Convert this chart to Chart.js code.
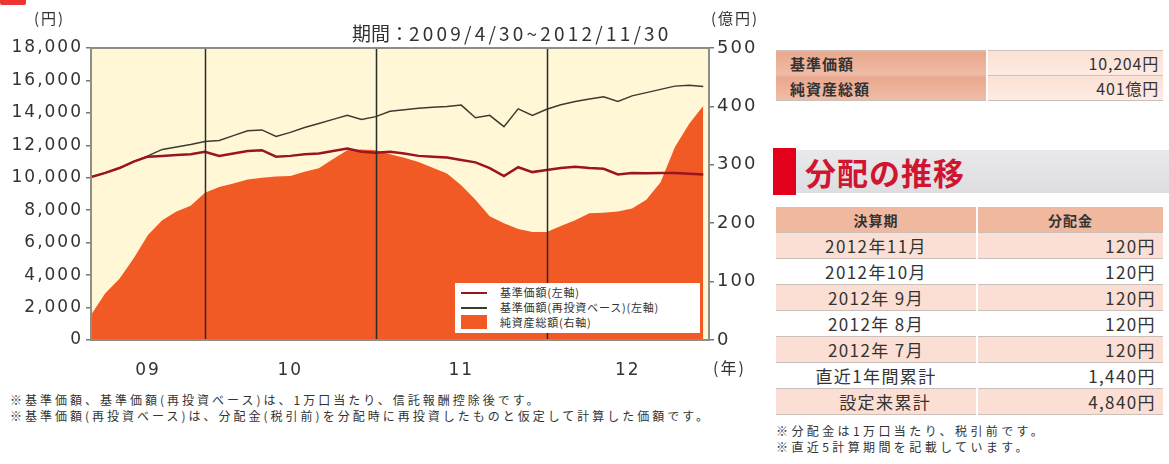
<!DOCTYPE html>
<html lang="ja">
<head>
<meta charset="UTF-8">
<title>基準価額・純資産の推移</title>
<script src="https://cdn.jsdelivr.net/npm/chart.js"></script>
<style>
  body { margin: 0; background: #fff; color: #333; font-family: "Noto Sans CJK JP", sans-serif; }
  #page { position: relative; width: 1169px; height: 464px; overflow: hidden; }
  #chartBox { position: absolute; left: 0; top: 0; width: 770px; height: 390px; }
  .abs { position: absolute; white-space: pre; }
  .unit { font-size: 15px; line-height: 18px; letter-spacing: 2px; }
  .note { font-size: 12px; line-height: 16px; letter-spacing: 3px; }
  #legendBox { position: absolute; left: 455px; top: 283px; width: 245px; height: 50px; background: #fff; }
  #legendBox .row { position: absolute; left: 0; font-size: 11px; line-height: 13px; letter-spacing: 0.8px; }
  #legendBox .sw { position: absolute; left: 6px; width: 26px; }
  #legendBox .tx { position: absolute; left: 45px; top: 0; white-space: pre; }

  table { border-collapse: collapse; position: absolute; left: 776px; width: 387px; }
  td { padding: 0 4px; border-top: 1px solid #c9c0bc; border-bottom: 1px solid #c9c0bc; }
  td + td { border-left: 2px solid #fff; }
  #infoTable { top: 50px; }
  #infoTable td { height: 23px; font-size: 15px; }
  #infoTable td.k { width: 192px; background: linear-gradient(#e9a78d, #f0bca6); font-weight: bold; letter-spacing: 1px; padding-left: 14px; }
  #infoTable td.v { background: linear-gradient(#fbe0d4, #fdebe3); text-align: right; font-size: 16px; letter-spacing: 0.8px; }
  #redBar { position: absolute; left: 773px; top: 148px; width: 23px; height: 47px; background: #e2001a; }
  #band { position: absolute; left: 796px; top: 150px; width: 373px; height: 43px; background: linear-gradient(#e9e9ec, #dedee2); }
  #heading { position: absolute; left: 805px; top: 150px; font-size: 31px; line-height: 43px; font-weight: bold; color: #cf1530; letter-spacing: 1px; }
  #distTable { top: 207px; }
  #distTable th { height: 23px; font-size: 14px; font-weight: bold; background: #f1b8a0; border-bottom: 1px solid #c9c0bc; letter-spacing: 1px; }
  #distTable th + th { border-left: 2px solid #fff; }
  #distTable td { height: 24px; font-size: 17px; letter-spacing: 1.4px; }
  #distTable td.k { width: 192px; text-align: center; }
  #distTable td.v { text-align: right; padding-right: 7px; }
  #distTable tr.pink td { background: #fcdfd4; }
  #distTable tr.white td { background: #fff; }
</style>
</head>
<body>
<div id="page">
  <div class="abs" style="left:0;top:-8px;width:26px;height:13px;background:#e33;border-radius:2px;"></div>
  <div id="chartBox"><canvas id="navChart"></canvas></div>

  <div class="abs unit" style="left:34px;top:9px;">(円)</div>
  <div class="abs unit" style="left:711px;top:9px;">(億円)</div>
  <div class="abs" style="left:352px;top:22px;font-size:19px;line-height:22px;"><span>期間：</span><span style="letter-spacing:3.2px;">2009/4/30~2012/11/30</span></div>
  <div class="abs" style="left:713px;top:357px;font-size:16px;line-height:20px;letter-spacing:2px;">(年)</div>

  <div id="legendBox">
    <div class="row" style="top:3px;width:245px;"><div class="sw" style="top:6px;height:2px;background:#9a1520;"></div><div class="tx">基準価額(左軸)</div></div>
    <div class="row" style="top:18px;width:245px;"><div class="sw" style="top:6px;height:2px;background:#3b3b30;"></div><div class="tx">基準価額(再投資ベース)(左軸)</div></div>
    <div class="row" style="top:33px;width:245px;"><div class="sw" style="top:-1px;height:14px;background:#f15a24;"></div><div class="tx">純資産総額(右軸)</div></div>
  </div>

  <div class="abs note" style="left:10px;top:392px;">※基準価額、基準価額(再投資ベース)は、1万口当たり、信託報酬控除後です。</div>
  <div class="abs note" style="left:10px;top:408px;">※基準価額(再投資ベース)は、分配金(税引前)を分配時に再投資したものと仮定して計算した価額です。</div>

  <table id="infoTable">
    <tr><td class="k">基準価額</td><td class="v">10,204円</td></tr>
    <tr><td class="k">純資産総額</td><td class="v">401億円</td></tr>
  </table>

  <div id="redBar"></div>
  <div id="band"></div>
  <div id="heading">分配の推移</div>

  <table id="distTable">
    <tr><th>決算期</th><th>分配金</th></tr>
    <tr class="pink"><td class="k">2012年11月</td><td class="v">120円</td></tr>
    <tr class="white"><td class="k">2012年10月</td><td class="v">120円</td></tr>
    <tr class="pink"><td class="k">2012年 9月</td><td class="v">120円</td></tr>
    <tr class="white"><td class="k">2012年 8月</td><td class="v">120円</td></tr>
    <tr class="pink"><td class="k">2012年 7月</td><td class="v">120円</td></tr>
    <tr class="white"><td class="k">直近1年間累計</td><td class="v">1,440円</td></tr>
    <tr class="pink"><td class="k">　設定来累計</td><td class="v">4,840円</td></tr>
  </table>

  <div class="abs note" style="left:776px;top:423px;letter-spacing:3.4px;">※分配金は1万口当たり、税引前です。</div>
  <div class="abs note" style="left:776px;top:439px;letter-spacing:3.4px;">※直近5計算期間を記載しています。</div>
</div>

<script>
// 月末データ (2009/4/30 ~ 2012/11/30)
const months = [
  '2009/4', '2009/5', '2009/6', '2009/7', '2009/8', '2009/9', '2009/10', '2009/11', '2009/12',
  '2010/1', '2010/2', '2010/3', '2010/4', '2010/5', '2010/6', '2010/7', '2010/8', '2010/9', '2010/10', '2010/11', '2010/12',
  '2011/1', '2011/2', '2011/3', '2011/4', '2011/5', '2011/6', '2011/7', '2011/8', '2011/9', '2011/10', '2011/11', '2011/12',
  '2012/1', '2012/2', '2012/3', '2012/4', '2012/5', '2012/6', '2012/7', '2012/8', '2012/9', '2012/10', '2012/11'
];
// 基準価額 (円, 左軸)
const navValues = [
  10050, 10300, 10600, 11000, 11300, 11350, 11400, 11450, 11600,
  11350, 11500, 11650, 11700, 11300, 11350, 11450, 11500, 11650, 11800, 11600, 11550,
  11600, 11500, 11350, 11300, 11250, 11100, 10950, 10600, 10100, 10650, 10350, 10480,
  10600, 10680, 10600, 10550, 10200, 10300, 10280, 10300, 10290, 10250, 10204
];
// 基準価額(再投資ベース) (円, 左軸)
const navReinvested = [
  10050, 10300, 10600, 11000, 11350, 11750, 11900, 12050, 12230,
  12300, 12600, 12900, 12950, 12550, 12800, 13100, 13350, 13600, 13850, 13600, 13770,
  14100, 14200, 14280, 14350, 14400, 14480, 13700, 13850, 13150, 14250, 13850, 14220,
  14500, 14700, 14850, 15000, 14700, 15050, 15250, 15450, 15650, 15700, 15620
];
// 純資産総額 (億円, 右軸)
const netAssets = [
  43, 80, 105, 140, 180, 205, 220, 230, 252,
  262, 268, 275, 278, 280, 281, 288, 294, 310, 325, 326, 325,
  318, 312, 305, 295, 285, 265, 240, 212, 200, 190, 185, 185,
  195, 205, 217, 218, 220, 225, 240, 270, 330, 370, 401
];
const yearLabels = ['09', '10', '11', '12'];
const leftTicks = [0, 2000, 4000, 6000, 8000, 10000, 12000, 14000, 16000, 18000];
const rightTicks = [0, 100, 200, 300, 400, 500];

// 年の区切り(12月末)と年ラベルの位置
const xMax = months.length - 1 + 0.4;
const yearEnds = months.map((m, i) => (m.endsWith('/12') ? i : null)).filter(v => v !== null);
const edges = [0, ...yearEnds, xMax];
const yearMid = yearLabels.map((_, i) => (edges[i] + edges[i + 1]) / 2);

const toPoints = arr => arr.map((v, i) => ({ x: i, y: v }));

const tickFont = { family: 'DejaVu Sans', size: 17 };

const plotFrame = {
  id: 'plotFrame',
  beforeDraw(chart) {
    const { ctx, chartArea: a } = chart;
    ctx.letterSpacing = '2px';
    ctx.save();
    ctx.fillStyle = '#fff7d6';
    ctx.fillRect(a.left, a.top, a.width, a.height);
    ctx.restore();
  },
  afterDatasetsDraw(chart) {
    const { ctx, chartArea: a, scales } = chart;
    ctx.save();
    ctx.strokeStyle = '#2b2b2b';
    ctx.lineWidth = 1.5;
    yearEnds.forEach(v => {
      const x = Math.round(scales.x.getPixelForValue(v)) + 0.5;
      ctx.beginPath();
      ctx.moveTo(x, a.top);
      ctx.lineTo(x, a.bottom);
      ctx.stroke();
    });
    ctx.strokeStyle = '#8e8e86';
    ctx.lineWidth = 2;
    ctx.strokeRect(a.left, a.top, a.width, a.height);
    ctx.restore();
  }
};

const ctx = document.getElementById('navChart').getContext('2d');
new Chart(ctx, {
  type: 'line',
  data: {
    datasets: [
      {
        label: '基準価額(左軸)',
        data: toPoints(navValues),
        borderColor: '#9a1520',
        borderWidth: 2.5,
        pointRadius: 0,
        yAxisID: 'y'
      },
      {
        label: '基準価額(再投資ベース)(左軸)',
        data: toPoints(navReinvested),
        borderColor: '#3b3b30',
        borderWidth: 1.5,
        pointRadius: 0,
        yAxisID: 'y'
      },
      {
        label: '純資産総額(右軸)',
        data: toPoints(netAssets),
        borderWidth: 0,
        backgroundColor: '#f15a24',
        fill: 'origin',
        pointRadius: 0,
        yAxisID: 'y1'
      }
    ]
  },
  options: {
    responsive: true,
    maintainAspectRatio: false,
    animation: false,
    layout: { padding: { top: 48 } },
    plugins: { legend: { display: false }, tooltip: { enabled: false } },
    scales: {
      x: {
        type: 'linear',
        min: 0,
        max: xMax,
        afterBuildTicks: s => { s.ticks = yearMid.map(v => ({ value: v })); },
        afterFit: s => { s.height = 50; },
        ticks: { callback: (v, i) => yearLabels[i], font: tickFont, color: '#333', padding: 12, autoSkip: false, maxRotation: 0 },
        grid: { display: false },
        border: { display: false }
      },
      y: {
        position: 'left',
        min: 0,
        max: 18000,
        afterBuildTicks: s => { s.ticks = leftTicks.map(v => ({ value: v })); },
        afterFit: s => { s.width = 91; },
        ticks: { callback: v => v.toLocaleString('en-US'), font: tickFont, color: '#333', padding: 3 },
        grid: { drawOnChartArea: false, tickLength: 5, color: '#777', lineWidth: 1.5 },
        border: { display: false }
      },
      y1: {
        position: 'right',
        min: 0,
        max: 500,
        afterBuildTicks: s => { s.ticks = rightTicks.map(v => ({ value: v })); },
        afterFit: s => { s.width = 61; },
        ticks: { font: { family: 'DejaVu Sans', size: 18 }, color: '#333', padding: 3 },
        grid: { drawOnChartArea: false, tickLength: 5, color: '#777', lineWidth: 1.5 },
        border: { display: false }
      }
    }
  },
  plugins: [plotFrame]
});
</script>
</body>
</html>
